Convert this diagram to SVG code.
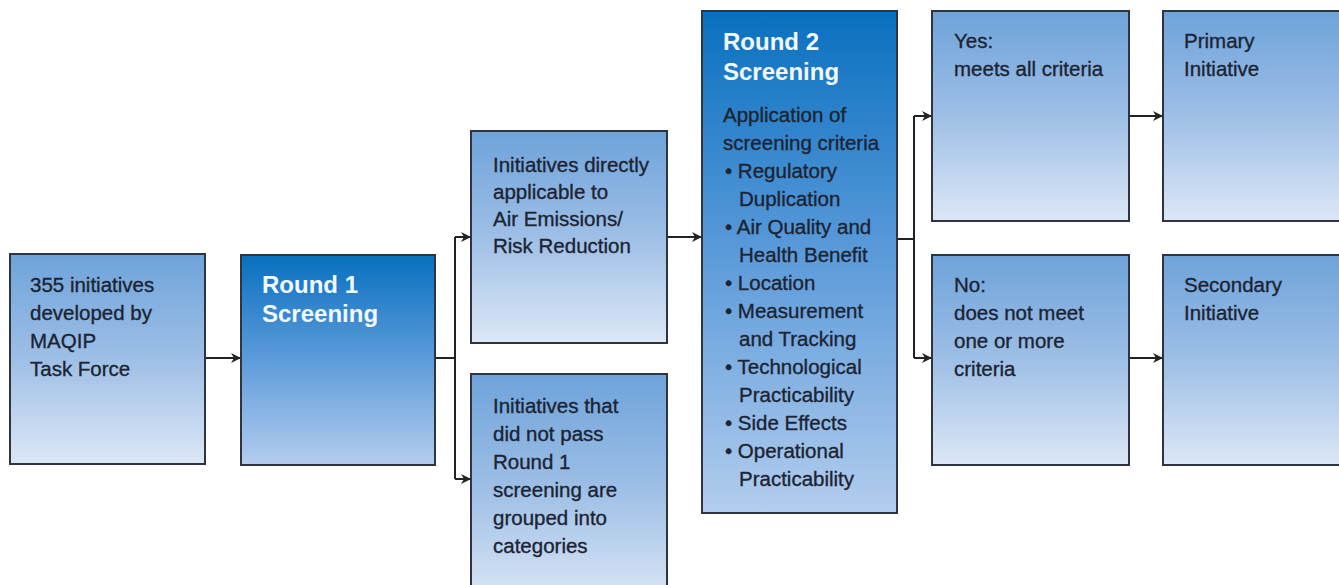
<svg xmlns="http://www.w3.org/2000/svg" width="1339" height="585" viewBox="0 0 1339 585">
<defs>
<linearGradient id="gLight" x1="0" y1="0" x2="0" y2="1">
<stop offset="0" stop-color="#6ea3da"/>
<stop offset="0.5" stop-color="#9ebfe6"/>
<stop offset="1" stop-color="#dce7f6"/>
</linearGradient>
<linearGradient id="gDark" x1="0" y1="0" x2="0" y2="1">
<stop offset="0" stop-color="#0870bf"/>
<stop offset="0.45" stop-color="#5597d8"/>
<stop offset="1" stop-color="#b3cdee"/>
</linearGradient>
<marker id="arr" viewBox="0 0 10 10" refX="9" refY="5" markerWidth="10" markerHeight="10" markerUnits="userSpaceOnUse" orient="auto">
<path d="M0,0 L10,5 L0,10 L3,5 Z" fill="#222"/>
</marker>
</defs>
<style>
.box{stroke:#2e3540;stroke-width:2}
.lt{fill:url(#gLight)}
.dk{fill:url(#gDark)}
.t{font-family:"Liberation Sans",Arial,sans-serif;font-size:20.5px;fill:#1c2433;stroke:#1c2433;stroke-width:0.35}
.h{font-family:"Liberation Sans",Arial,sans-serif;font-size:24px;font-weight:bold;fill:#f2f8ff}
.c{fill:none;stroke:#222;stroke-width:2}
</style>
<rect width="1339" height="585" fill="#ffffff"/>
<g id="connectors">
<path class="c" d="M205,358 H240" marker-end="url(#arr)"/>
<path class="c" d="M435,358 H455"/>
<path class="c" d="M455,237 V479"/>
<path class="c" d="M455,237 H470" marker-end="url(#arr)"/>
<path class="c" d="M455,479 H470" marker-end="url(#arr)"/>
<path class="c" d="M667,237 H701" marker-end="url(#arr)"/>
<path class="c" d="M897,239 H914"/>
<path class="c" d="M914,116 V358"/>
<path class="c" d="M914,116 H931" marker-end="url(#arr)"/>
<path class="c" d="M914,358 H931" marker-end="url(#arr)"/>
<path class="c" d="M1129,116 H1162" marker-end="url(#arr)"/>
<path class="c" d="M1129,358 H1162" marker-end="url(#arr)"/>
</g>
<g id="n1">
<rect class="box lt" x="10" y="254" width="195" height="210"/>
<text class="t" x="30" y="292">355 initiatives</text>
<text class="t" x="30" y="320">developed by</text>
<text class="t" x="30" y="348">MAQIP</text>
<text class="t" x="30" y="376">Task Force</text>
</g>
<g id="round1">
<rect class="box dk" x="241" y="255" width="194" height="210"/>
<text class="h" x="262" y="293">Round 1</text>
<text class="h" x="262" y="322">Screening</text>
</g>
<g id="direct">
<rect class="box lt" x="471" y="131" width="196" height="212"/>
<text class="t" x="493" y="172">Initiatives directly</text>
<text class="t" x="493" y="199">applicable to</text>
<text class="t" x="493" y="226">Air Emissions/</text>
<text class="t" x="493" y="253">Risk Reduction</text>
</g>
<g id="notpass">
<rect class="box lt" x="471" y="374" width="196" height="230"/>
<text class="t" x="493" y="413">Initiatives that</text>
<text class="t" x="493" y="441">did not pass</text>
<text class="t" x="493" y="469">Round 1</text>
<text class="t" x="493" y="497">screening are</text>
<text class="t" x="493" y="525">grouped into</text>
<text class="t" x="493" y="553">categories</text>
</g>
<g id="round2">
<rect class="box dk" x="702" y="11" width="195" height="502"/>
<text class="h" x="723" y="50">Round 2</text>
<text class="h" x="723" y="80">Screening</text>
<text class="t" x="723" y="122">Application of</text>
<text class="t" x="723" y="150">screening criteria</text>
<text class="t" x="725" y="178">• Regulatory</text>
<text class="t" x="739" y="206">Duplication</text>
<text class="t" x="725" y="234">• Air Quality and</text>
<text class="t" x="739" y="262">Health Benefit</text>
<text class="t" x="725" y="290">• Location</text>
<text class="t" x="725" y="318">• Measurement</text>
<text class="t" x="739" y="346">and Tracking</text>
<text class="t" x="725" y="374">• Technological</text>
<text class="t" x="739" y="402">Practicability</text>
<text class="t" x="725" y="430">• Side Effects</text>
<text class="t" x="725" y="458">• Operational</text>
<text class="t" x="739" y="486">Practicability</text>
</g>
<g id="yes">
<rect class="box lt" x="932" y="11" width="197" height="210"/>
<text class="t" x="954" y="48">Yes:</text>
<text class="t" x="954" y="76">meets all criteria</text>
</g>
<g id="no">
<rect class="box lt" x="932" y="255" width="197" height="210"/>
<text class="t" x="954" y="292">No:</text>
<text class="t" x="954" y="320">does not meet</text>
<text class="t" x="954" y="348">one or more</text>
<text class="t" x="954" y="376">criteria</text>
</g>
<g id="primary">
<rect class="box lt" x="1163" y="11" width="200" height="210"/>
<text class="t" x="1184" y="48">Primary</text>
<text class="t" x="1184" y="76">Initiative</text>
</g>
<g id="secondary">
<rect class="box lt" x="1163" y="255" width="200" height="210"/>
<text class="t" x="1184" y="292">Secondary</text>
<text class="t" x="1184" y="320">Initiative</text>
</g>
</svg>
